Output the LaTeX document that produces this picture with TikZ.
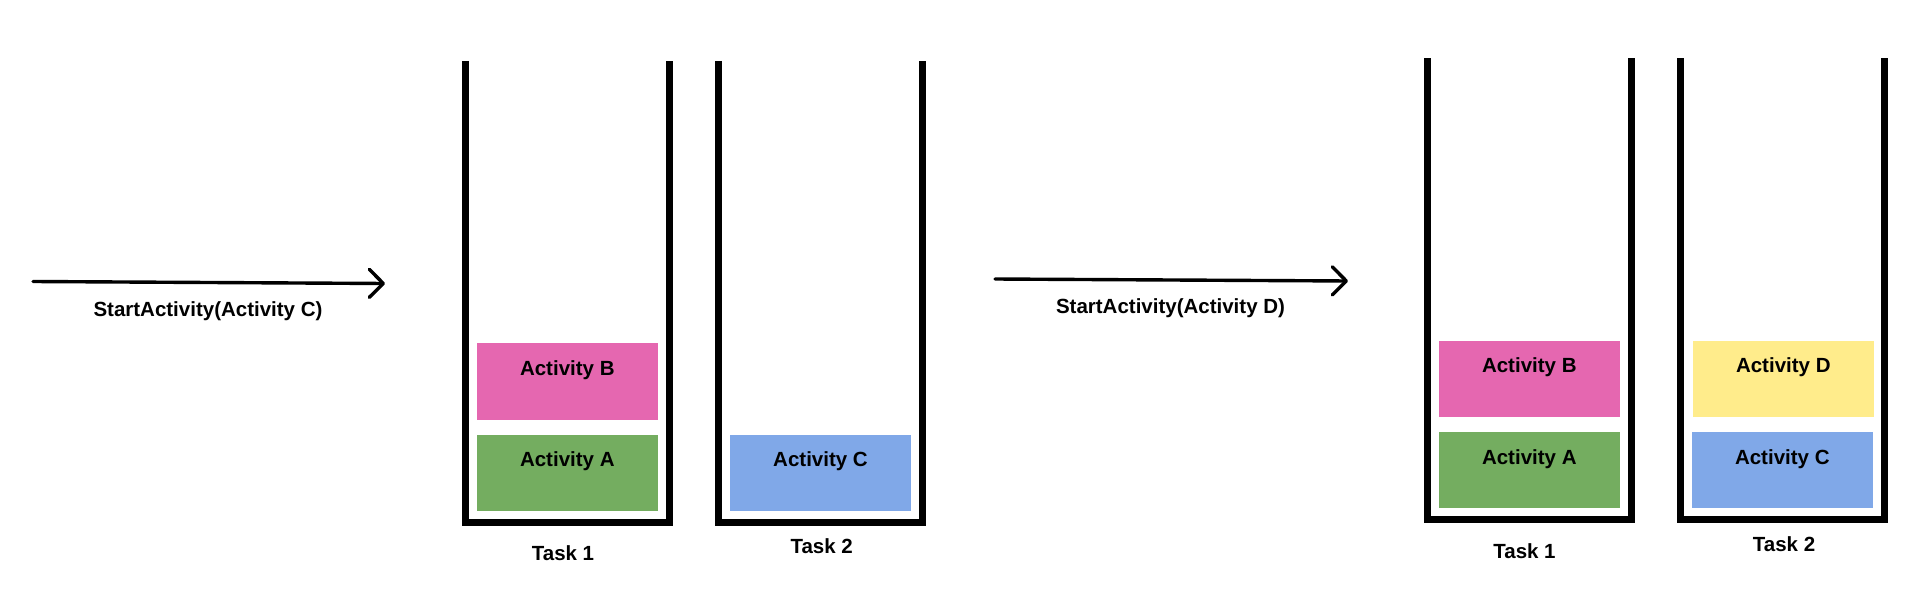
\documentclass[tikz,border=0pt]{standalone}
\usepackage{fontspec}
\setmainfont{Liberation Sans}
\usetikzlibrary{arrows.meta}
\definecolor{actpink}{HTML}{E567B0}
\definecolor{actgreen}{HTML}{74AD60}
\definecolor{actblue}{HTML}{80A8E8}
\definecolor{actyellow}{HTML}{FFEC8B}
\tikzset{
  txt/.style={anchor=base, inner sep=0pt, font=\fontsize{20.5}{24}\selectfont\bfseries},
  actbox/.style={rectangle, inner sep=0pt, draw=none, minimum width=181pt, minimum height=76pt},
  stack/.style={line width=7pt, line join=miter, line cap=butt},
  callarrow/.style={line width=3.4pt, line cap=round, -{Straight Barb[length=14pt,width=28pt,round]}},
}
\begin{document}
\begin{tikzpicture}[x=1pt, y=-1pt]
\useasboundingbox (0,0) rectangle (1922,596);
\fill[white] (0,0) rectangle (1922,596);

% arrows
\coordinate (a1s) at (33,281.5);
\coordinate (a1e) at (385,283.5);
\coordinate (a2s) at (995,279);
\coordinate (a2e) at (1348,281);
\draw[callarrow] (a1s) -- (a1e);
\draw[callarrow] (a2s) -- (a2e);
\node[txt] (lab1) at (208,316) {StartActivity(Activity C)};
\node[txt] (lab2) at (1170.5,313) {StartActivity(Activity D)};

% containers
\draw[stack] (465.5,61) -- (465.5,522) -- (669,522) -- (669,61);
\draw[stack] (718.5,61) -- (718.5,522) -- (922.5,522) -- (922.5,61);
\draw[stack] (1427,58.3) -- (1427,519.7) -- (1631,519.7) -- (1631,58.3);
\draw[stack] (1680,58.3) -- (1680,519.7) -- (1884,519.7) -- (1884,58.3);

% left state
\node[actbox, fill=actpink, minimum height=76.7pt] (lB) at (567.3,381.7) {};
\node[actbox, fill=actgreen] (lA) at (567.3,473) {};
\node[actbox, fill=actblue] (lC) at (820.5,473) {};
\node[txt] (lBt) at ([yshift=-32.7pt]lB.north) {Activity B};
\node[txt] (lAt) at ([yshift=-32pt]lA.north) {Activity A};
\node[txt] (lCt) at ([yshift=-32pt]lC.north) {Activity C};
\node[txt] (lT1) at (563,560) {Task 1};
\node[txt] (lT2) at (821.7,553) {Task 2};

% right state
\node[actbox, fill=actpink] (rB) at (1529.3,379) {};
\node[actbox, fill=actgreen] (rA) at (1529.3,470.3) {};
\node[actbox, fill=actyellow] (rD) at (1783.3,379) {};
\node[actbox, fill=actblue] (rC) at (1782.3,470.3) {};
\node[txt] (rBt) at ([yshift=-32pt]rB.north) {Activity B};
\node[txt] (rAt) at ([yshift=-32pt]rA.north) {Activity A};
\node[txt] (rDt) at ([yshift=-32pt]rD.north) {Activity D};
\node[txt] (rCt) at ([yshift=-32pt]rC.north) {Activity C};
\node[txt] (rT1) at (1524.5,558) {Task 1};
\node[txt] (rT2) at (1784,551) {Task 2};
\end{tikzpicture}
\end{document}
